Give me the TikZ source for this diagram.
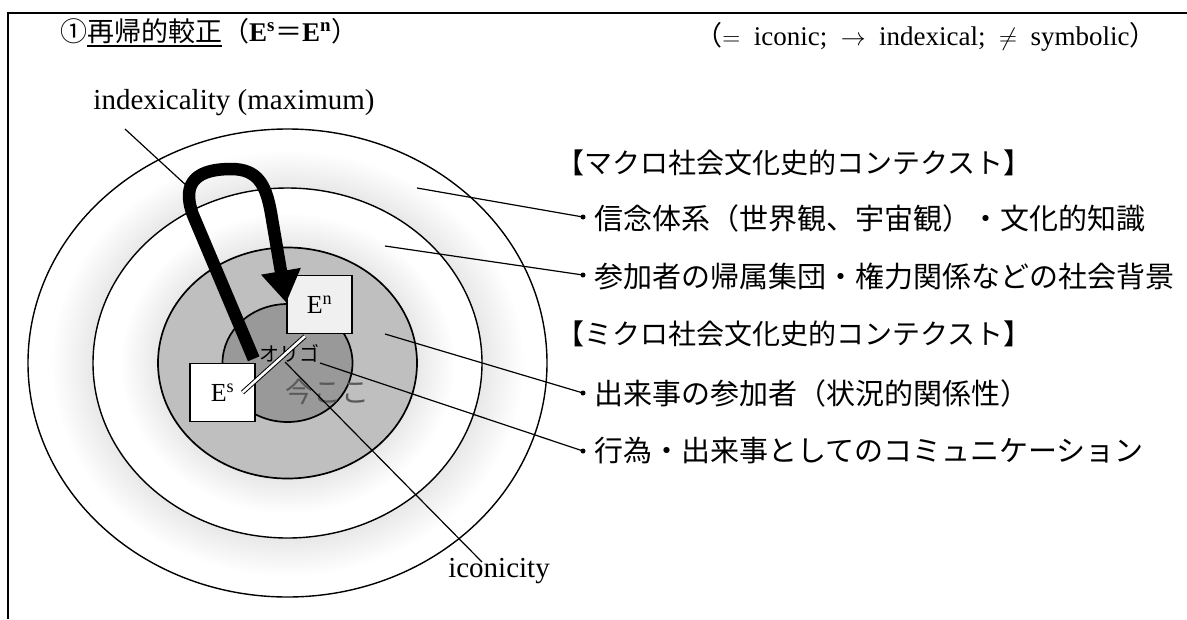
\documentclass[tikz,border=0pt]{standalone}
\usepackage{fontspec}
\setmainfont{Liberation Serif}
\newfontfamily\cjk{Noto Sans CJK JP}
\usetikzlibrary{arrows.meta}
\pgfdeclareradialshading{glowA}{\pgfpoint{0bp}{0bp}}{color(0bp)=(black!9); color(18.75bp)=(black!9); color(22.8bp)=(white); color(25bp)=(white); color(50bp)=(white)}
\pgfdeclareradialshading{glowB}{\pgfpoint{0bp}{0bp}}{color(0bp)=(black!9); color(16.6bp)=(black!9); color(21.5bp)=(white); color(25bp)=(white); color(50bp)=(white)}
\newcommand\myul[1]{\setbox0\hbox{#1}\rlap{\rule[-6pt]{\wd0}{1.6pt}}\box0}
\begin{document}
\begin{tikzpicture}[x=1pt,y=-1pt,
  lead/.style={line width=1.2pt},
  ring/.style={line width=1.4pt},
  ebox/.style={draw, line width=1.4pt, minimum width=65pt, minimum height=58pt, inner sep=0pt, font=\fontsize{26}{26}\selectfont},
  bul/.style={circle, fill, inner sep=0pt, minimum size=5pt},
  jp/.style={font=\cjk\fontsize{29}{29}\selectfont, inner sep=0pt, anchor=west},
  jph/.style={font=\cjk\fontsize{28}{28}\selectfont, inner sep=0pt, anchor=west},
  en/.style={font=\fontsize{29}{29}\selectfont, inner sep=0pt}]
\useasboundingbox (0,0) rectangle (1187,619);
% frame
\draw[line width=1.5pt] (8,619) -- (8,13) -- (1187,13);
% rings
\coordinate (c) at (287.5,363);
\shadedraw[shading=glowA, ring] (c) ellipse [x radius=259.5, y radius=234];
\shadedraw[shading=glowB, ring] (c) ellipse [x radius=194.5, y radius=175];
\filldraw[fill=black!25, line width=1.7pt] (c) ellipse [x radius=129.5, y radius=115.5];
\filldraw[fill=black!40, line width=1.7pt] (c) ellipse [x radius=65, y radius=59];
% inner texts
\node[font=\cjk\fontsize{20}{20}\selectfont, inner sep=0pt] (origo) at (289,353) {オリゴ};
\node[font=\cjk\fontsize{28}{28}\selectfont, text=black!65, inner sep=0pt] (now) at (327,392) {今ここ};
% iconicity
\node[en] (icon) at (499,571) {iconicity};
\coordinate (ic0) at (285,362);
\coordinate (ic1) at (482,562);
\draw[lead] (ic0) -- (ic1);
% right leader lines
\node[bul] (b1) at (583,217) {};
\node[bul] (b2) at (583,275) {};
\node[bul] (b3) at (583,393) {};
\node[bul] (b4) at (583,451) {};
\coordinate (p1) at (417,188);
\coordinate (p2) at (385,246);
\coordinate (p3) at (385,334);
\coordinate (p4) at (320,363);
\draw[lead] (p1) -- (b1.center);
\draw[lead] (p2) -- (b2.center);
\draw[lead] (p3) -- (b3.center);
\draw[lead] (p4) -- (b4.center);
% boxes
\node[ebox, fill=black!6] (En) at (319.5,304.5) {E\textsuperscript{n}};
\node[ebox, fill=white] (Es) at (222.5,392.5) {E\textsuperscript{s}};
% thick loop arrow
\draw[line width=12.5pt, line join=round, -{Triangle[length=32pt,width=38pt]}]
  ([xshift=-2pt,yshift=4pt]Es.north east) -- (193,215)
  .. controls (180,180) and (200,169) .. (231,169)
  .. controls (258,169) and (266,185) .. (271,213)
  -- ([yshift=-28pt]En.north west);
% double line
\draw[double, double distance=2.6pt, line width=1pt]
  ([xshift=-14.5pt,yshift=-2pt]En.south) -- ([xshift=20pt]Es.center);
% indexicality
\node[en] (idx) at (234,103) {indexicality (maximum)};
\coordinate (ix0) at (125,129);
\coordinate (ix1) at (188,187);
\draw[lead] (ix0) -- (ix1);
% right texts
\node[jph] (h1) at (556,163) {【マクロ社会文化史的コンテクスト】};
\node[jp] (t1) at (594,218) {信念体系（世界観、宇宙観）・文化的知識};
\node[jp] (t2) at (594,276) {参加者の帰属集団・権力関係などの社会背景};
\node[jph] (h2) at (556,334) {【ミクロ社会文化史的コンテクスト】};
\node[jp] (t3) at (594,393) {出来事の参加者（状況的関係性）};
\node[jp] (t4) at (594,451) {行為・出来事としてのコミュニケーション};
% title
\node[anchor=base west, inner sep=0pt, font=\fontsize{27}{27}\selectfont] (title) at (60,41)
  {{\cjk ①\myul{再帰的較正}（}\textbf{E\textsuperscript{s}}{\cjk ＝}\textbf{E\textsuperscript{n}}{\cjk ）}};
% legend
\node[inner sep=0pt, font=\fontsize{27}{27}\selectfont] (legend) at (926,37)
  {{\cjk （}$=$\enspace iconic;\enspace$\rightarrow$\enspace indexical;\enspace$\neq$\enspace symbolic{\cjk ）}};
\end{tikzpicture}
\end{document}
